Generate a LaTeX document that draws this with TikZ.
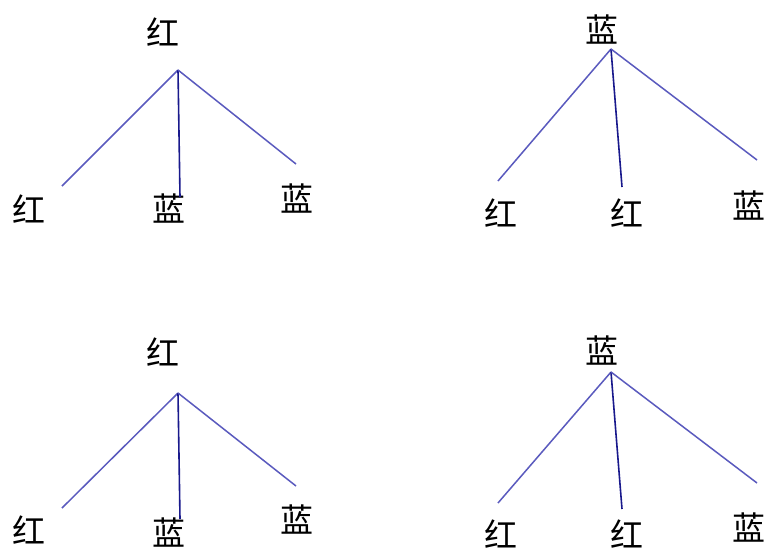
\documentclass[tikz,border=0pt]{standalone}
\usepackage{fontspec}
\newfontfamily\cjk{Noto Sans CJK SC}
\tikzset{
  lbl/.style={inner sep=0pt, font=\cjk\fontsize{33}{33}\selectfont, text=black},
  side/.style={draw={rgb,255:red,90;green,90;blue,190}, line width=1.5pt},
  mid/.style={draw={rgb,255:red,25;green,25;blue,140}, line width=1.6pt},
}
\begin{document}
\begin{tikzpicture}[x=1pt,y=-1pt]
\useasboundingbox[fill=white] (0,0) rectangle (768,547);
% ---- tree 1 (top-left)
\node[lbl] (r1) at (163,32) {红};
\coordinate (a1) at (178,70);
\coordinate (l1) at (62,186);
\coordinate (m1) at (180,197);
\coordinate (e1) at (296,164);
\node[lbl] (c1a) at (29,209) {红};
\node[lbl] (c1b) at (169,209) {蓝};
\node[lbl] (c1c) at (297,199) {蓝};
\draw[side] (a1) -- (l1);
\draw[mid] (a1) -- (m1);
\draw[side] (a1) -- (e1);
% ---- tree 2 (top-right)
\node[lbl] (r2) at (602,30) {蓝};
\coordinate (a2) at (611,49);
\coordinate (l2) at (498,181);
\coordinate (m2) at (622,187);
\coordinate (e2) at (757,160);
\node[lbl] (c2a) at (501,213) {红};
\node[lbl] (c2b) at (627,213) {红};
\node[lbl] (c2c) at (749,206) {蓝};
\draw[side] (a2) -- (l2);
\draw[mid] (a2) -- (m2);
\draw[side] (a2) -- (e2);
% ---- tree 3 (bottom-left)
\node[lbl] (r3) at (163,352) {红};
\coordinate (a3) at (178,393);
\coordinate (l3) at (62,508);
\coordinate (m3) at (180,519);
\coordinate (e3) at (296,486);
\node[lbl] (c3a) at (29,530) {红};
\node[lbl] (c3b) at (169,533) {蓝};
\node[lbl] (c3c) at (297,520) {蓝};
\draw[side] (a3) -- (l3);
\draw[mid] (a3) -- (m3);
\draw[side] (a3) -- (e3);
% ---- tree 4 (bottom-right)
\node[lbl] (r4) at (602,351) {蓝};
\coordinate (a4) at (611,372);
\coordinate (l4) at (498,503);
\coordinate (m4) at (622,509);
\coordinate (e4) at (757,483);
\node[lbl] (c4a) at (501,534) {红};
\node[lbl] (c4b) at (627,534) {红};
\node[lbl] (c4c) at (749,528) {蓝};
\draw[side] (a4) -- (l4);
\draw[mid] (a4) -- (m4);
\draw[side] (a4) -- (e4);
\end{tikzpicture}
\end{document}
